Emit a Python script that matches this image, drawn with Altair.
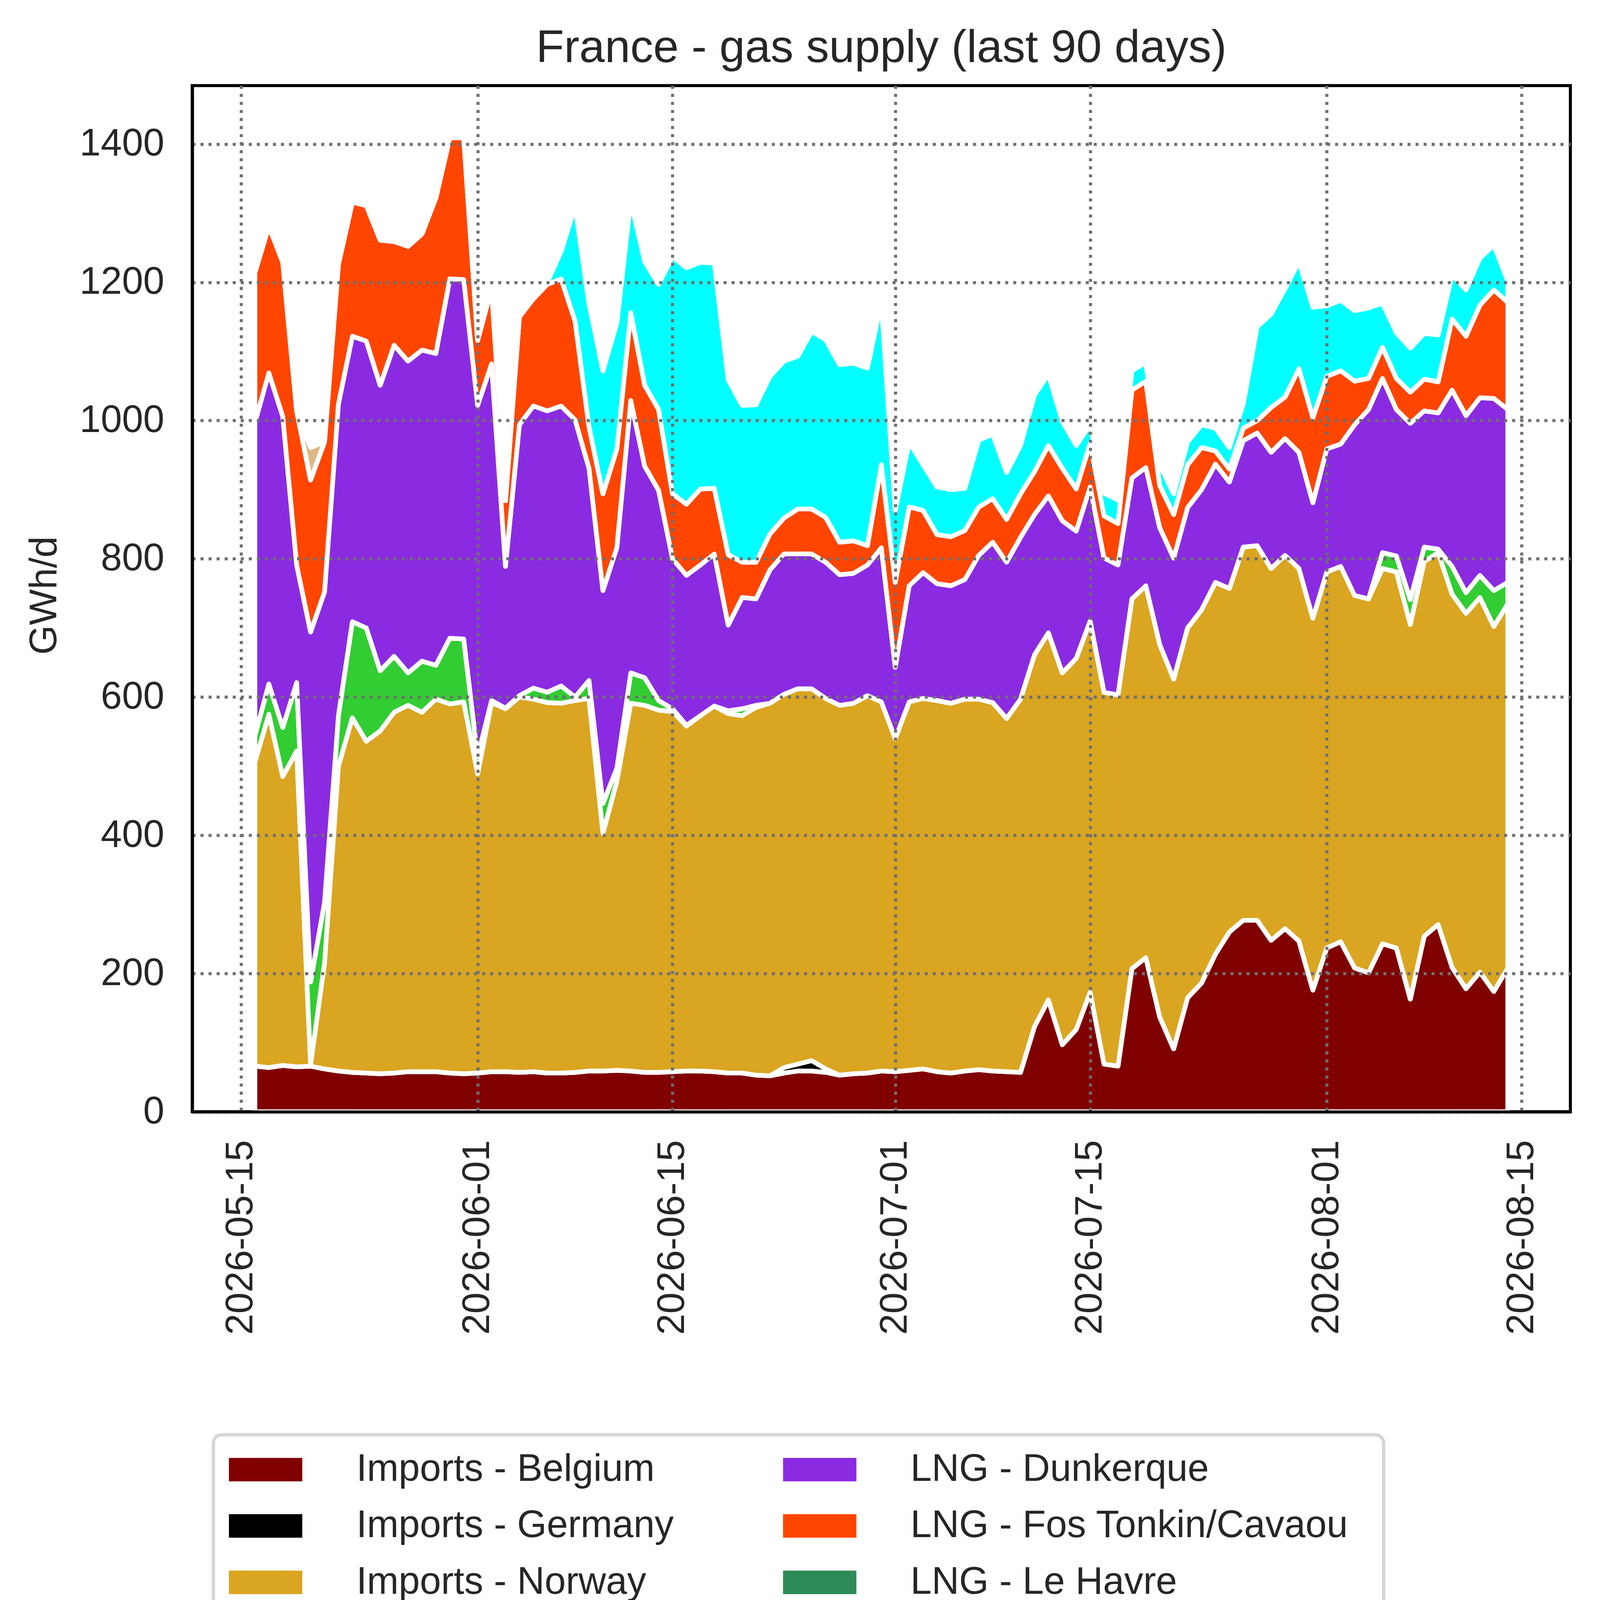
import altair as alt
import pandas as pd

# ---- categories ----
dates = pd.date_range("2026-05-16", periods=91, freq="D").strftime("%Y-%m-%d").tolist()

series_names = [
    "Imports - Belgium",
    "Imports - Germany",
    "Imports - Norway",
    "Imports - Spain",
    "Imports - Switzerland",
    "LNG - Dunkerque",
    "LNG - Fos Tonkin/Cavaou",
    "LNG - Le Havre",
    "LNG - Montoir de Bretagne",
    "Storage withdrawals",
]
series_colors = [
    "#800000", "#000000", "#DAA520", "#32CD32", "#4169E1",
    "#8A2BE2", "#FF4500", "#2E8B57", "#00FFFF", "#DEB887",
]

# ---- series values (GWh/d), 2026-05-16 .. 2026-08-14 ----
belgium = [66, 64, 67, 65, 66, 62, 59, 57, 56, 55, 56, 58, 58, 58, 56, 55, 56, 58, 58, 57,
           58, 56, 56, 57, 59, 59, 60, 59, 57, 57, 58, 59, 59, 58, 56, 56, 53, 52, 56, 59,
           59, 57, 53, 55, 56, 59, 58, 60, 62, 58, 56, 59, 61, 59, 58, 57, 123, 162, 97, 119,
           173, 69, 66, 207, 223, 137, 91, 165, 186, 228, 260, 277, 277, 248, 265, 247, 176, 237, 246, 208,
           201, 243, 237, 163, 254, 271, 209, 178, 202, 174, 208]
germany = [0, 0, 0, 0, 0, 0, 0, 0, 0, 0, 0, 0, 0, 0, 0, 0, 0, 0, 0, 0,
           0, 0, 0, 0, 0, 0, 0, 0, 0, 0, 0, 0, 0, 0, 0, 0, 0, 0, 8, 10,
           15, 5, 0, 0, 0, 0, 0, 0, 0, 0, 0, 0, 0, 0, 0, 0, 0, 0, 0, 0,
           0, 0, 0, 0, 0, 0, 0, 0, 0, 0, 0, 0, 0, 0, 0, 0, 0, 0, 0, 0,
           0, 0, 0, 0, 0, 0, 0, 0, 0, 0, 0]
norway = [440, 511, 418, 457, 2, 153, 441, 513, 480, 496, 522, 530, 520, 539, 534, 538, 433, 534, 525, 543,
          539, 536, 535, 538, 539, 344, 418, 532, 531, 524, 521, 499, 514, 529, 520, 517, 532, 539, 540, 543,
          538, 536, 535, 536, 546, 534, 482, 533, 536, 537, 535, 538, 536, 533, 511, 540, 538, 531, 538, 537,
          537, 538, 537, 535, 538, 539, 535, 535, 540, 538, 497, 540, 542, 538, 540, 539, 538, 544, 543, 539,
          541, 543, 544, 542, 542, 538, 540, 543, 542, 528, 527]
spain = [38, 44, 71, 99, 120, 88, 73, 139, 164, 87, 81, 47, 74, 49, 95, 91, 25, 3, 1, 2,
         16, 15, 25, 5, 26, 43, 19, 44, 40, 14, 4, 1, 0, 0, 4, 10, 3, 0, 0, 0,
         0, 0, 0, 0, 0, 0, 0, 0, 0, 0, 0, 0, 0, 0, 0, 0, 0, 0, 0, 0,
         0, 0, 0, 0, 0, 0, 0, 0, 0, 0, 0, 0, 0, 0, 0, 0, 0, 0, 0, 0,
         0, 23, 23, 36, 21, 5, 40, 30, 32, 52, 31]
switzerland = [0, 0, 0, 0, 0, 0, 0, 0, 0, 0, 0, 0, 0, 0, 0, 0, 0, 0, 0, 0,
               0, 0, 0, 0, 0, 0, 0, 0, 0, 0, 0, 0, 0, 0, 0, 0, 0, 0, 0, 0,
               0, 0, 0, 0, 0, 0, 0, 0, 0, 0, 0, 0, 0, 0, 0, 0, 0, 0, 0, 0,
               0, 0, 0, 0, 0, 0, 0, 0, 0, 0, 0, 0, 0, 0, 0, 0, 0, 0, 0, 0,
               0, 0, 0, 0, 0, 0, 0, 0, 0, 0, 0]
dunkerque = [453, 450, 450, 170, 506, 449, 451, 413, 415, 413, 450, 451, 450, 451, 520, 520, 508, 487, 205, 392,
             408, 407, 405, 401, 307, 308, 319, 394, 306, 304, 217, 217, 218, 220, 124, 161, 154, 193, 203, 195,
             195, 197, 189, 188, 189, 223, 103, 168, 182, 169, 170, 173, 208, 232, 226, 234, 203, 198, 220, 184,
             194, 194, 188, 175, 171, 169, 175, 174, 174, 171, 154, 154, 163, 168, 169, 168, 167, 178, 177, 247,
             274, 252, 212, 255, 197, 197, 255, 256, 257, 278, 250]
fos = [217, 212, 223, 223, 220, 217, 202, 194, 196, 210, 150, 166, 168, 225, 204, 205, 94, 109, 95, 156,
       155, 183, 184, 143, 60, 140, 143, 127, 117, 117, 94, 103, 110, 95, 102, 51, 53, 52, 52, 65,
       65, 65, 47, 47, 28, 120, 123, 114, 90, 71, 71, 71, 70, 63, 62, 63, 62, 73, 76, 61,
       63, 61, 60, 127, 125, 61, 63, 62, 61, 19, 19, 18, 18, 65, 60, 121, 123, 105, 106, 63,
       45, 45, 45, 45, 46, 45, 103, 115, 134, 157, 155]
le_havre = [0, 0, 0, 0, 0, 0, 0, 0, 0, 0, 0, 0, 0, 0, 0, 0, 0, 0, 0, 0,
            0, 0, 0, 0, 0, 0, 0, 0, 0, 0, 0, 0, 0, 0, 0, 0, 0, 0, 0, 0,
            0, 0, 0, 0, 0, 0, 0, 0, 0, 0, 0, 0, 0, 0, 0, 0, 0, 0, 0, 0,
            0, 0, 0, 0, 0, 0, 0, 0, 0, 0, 0, 0, 0, 0, 0, 0, 0, 0, 0, 0,
            0, 0, 0, 0, 0, 0, 0, 0, 0, 0, 0]
montoir = [0, 0, 0, 0, 0, 0, 0, 0, 0, 0, 0, 0, 0, 0, 0, 0, 0, 0, 0, 0,
           0, 3, 40, 166, 178, 178, 182, 162, 179, 181, 343, 342, 328, 326, 253, 227, 228, 228, 227, 221,
           257, 257, 257, 257, 257, 235, 104, 94, 66, 69, 68, 61, 97, 93, 68, 70, 111, 103, 68, 63,
           27, 33, 34, 28, 27, 30, 30, 33, 33, 33, 31, 35, 136, 135, 157, 155, 160, 102, 102, 102,
           102, 64, 66, 64, 66, 68, 64, 67, 68, 65, 31]
storage = [0, 0, 0, 0, 47, 0, 0, 0, 0, 0, 0, 0, 0, 0, 0, 0, 0, 0, 0, 0,
           0, 0, 0, 0, 0, 0, 0, 0, 0, 0, 0, 0, 0, 0, 0, 0, 0, 0, 0, 0,
           0, 0, 0, 0, 0, 0, 0, 0, 0, 0, 0, 0, 0, 0, 0, 0, 0, 0, 0, 0,
           0, 0, 0, 0, 0, 0, 0, 0, 0, 0, 0, 0, 0, 0, 0, 0, 0, 0, 0, 0,
           0, 0, 0, 0, 0, 0, 0, 0, 0, 0, 0]

y_tick_values = [0, 200, 400, 600, 800, 1000, 1200, 1400]
x_tick_dates = [(2026, 5, 15), (2026, 6, 1), (2026, 6, 15), (2026, 7, 1),
                (2026, 7, 15), (2026, 8, 1), (2026, 8, 15)]

all_series = [belgium, germany, norway, spain, switzerland,
              dunkerque, fos, le_havre, montoir, storage]

rows = []
for k, (name, vals) in enumerate(zip(series_names, all_series)):
    for d, v in zip(dates, vals):
        rows.append({"date": d, "series": name, "value": v, "k": k})
df = pd.DataFrame(rows)

FONT = "Liberation Sans"
TXT = "#262626"
GRID = "#6f6f6f"
FS = 97.5

x_values = [alt.DateTime(year=y, month=m, date=d, utc=True) for (y, m, d) in x_tick_dates]

chart = alt.Chart(df).mark_area(
    stroke="white", strokeWidth=12, strokeJoin="round", interpolate="linear"
).encode(
    x=alt.X(
        "date:T",
        scale=alt.Scale(
            type="utc",
            domain=[alt.DateTime(year=2026, month=5, date=11, hours=12, utc=True),
                    alt.DateTime(year=2026, month=8, date=18, hours=12, utc=True)],
            nice=False,
        ),
        axis=alt.Axis(
            values=x_values,
            labelExpr="utcFormat(datum.value, '%Y-%m-%d')",
            labelAngle=270, labelAlign="right", labelBaseline="middle",
            labelPadding=72, ticks=False, tickSize=0, labelLimit=3000,
            labelFontSize=FS, labelFont=FONT, labelColor=TXT,
            grid=True, gridColor=GRID, gridDash=[7.8, 12.8], gridWidth=7.8,
            domain=True, domainColor="black", domainWidth=7.8,
            labelOverlap=False, zindex=1, title=None,
        ),
    ),
    y=alt.Y(
        "value:Q", stack="zero",
        scale=alt.Scale(domain=[0, 1484.6], nice=False),
        axis=alt.Axis(
            values=y_tick_values, format="d",
            title="GWh/d", titleFontSize=FS, titleFont=FONT, titleColor=TXT,
            titleFontWeight="normal", titleAngle=270,
            titleAlign="center", titleBaseline="middle",
            titleX=-378, titleY=1305,
            labelPadding=72, ticks=False, tickSize=0, labelLimit=3000,
            labelFontSize=FS, labelFont=FONT, labelColor=TXT,
            grid=True, gridColor=GRID, gridDash=[7.8, 12.8], gridWidth=7.8,
            domain=True, domainColor="black", domainWidth=7.8,
            labelOverlap=False, zindex=1,
        ),
    ),
    color=alt.Color(
        "series:N", title=None,
        scale=alt.Scale(domain=series_names, range=series_colors),
        legend=alt.Legend(
            orient="none", legendX=54, legendY=3454,
            columns=2, columnPadding=175.5, rowPadding=45.5,
            symbolType="M-2,-0.64L2,-0.64L2,0.64L-2,0.64Z",
            symbolSize=8817, symbolStrokeWidth=0, symbolOpacity=1,
            symbolOffset=45, labelOffset=183.5,
            labelFontSize=FS, labelFont=FONT, labelColor=TXT, labelLimit=4000,
            padding=40, strokeColor="#d6d6d6",
            cornerRadius=21, fillColor="white",
        ),
    ),
    order=alt.Order("k:Q", sort="ascending"),
).properties(
    width=3528, height=2627,
    title=alt.TitleParams(
        "France - gas supply (last 90 days)", fontSize=117.4, font=FONT,
        color=TXT, fontWeight="normal", anchor="middle", offset=35.6,
    ),
    autosize=alt.AutoSizeParams(type="none"),
    padding={"left": 484.2, "top": 211.1, "right": 60, "bottom": 1632},
).configure(
    font=FONT
).configure_view(
    stroke="black", strokeWidth=7.8
).configure_legend(
    strokeWidth=8.5
)

chart.save("out.html", embed_options={"renderer": "svg", "actions": False})
